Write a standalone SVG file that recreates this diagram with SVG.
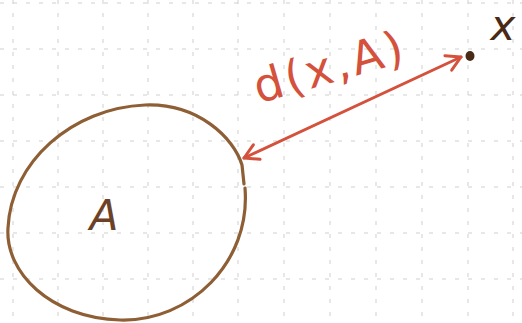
<svg xmlns="http://www.w3.org/2000/svg" width="522" height="323" viewBox="0 0 522 323">
<defs>
<style>
.grid line{stroke:#cfcfcf;stroke-width:1;stroke-dasharray:4 9}
.set{fill:none;stroke:#8e5e34;stroke-width:3.2;stroke-linejoin:round;stroke-linecap:round}
.dist{stroke:#d4513c;stroke-width:3;stroke-linecap:round;fill:none}
.lbl{font-family:"DejaVu Sans",sans-serif}
</style>
<marker id="ah" viewBox="0 0 20 20" refX="18" refY="10" markerWidth="20" markerHeight="20" markerUnits="userSpaceOnUse" orient="auto-start-reverse">
<path d="M4 2 L18 10 L4 18" fill="none" stroke="#d4513c" stroke-width="3" stroke-linecap="round" stroke-linejoin="round"/>
</marker>
</defs>
<rect width="522" height="323" fill="#ffffff"/>
<g class="grid">
<line x1="13" y1="0" x2="13" y2="323"/><line x1="58" y1="0" x2="58" y2="323"/><line x1="103" y1="0" x2="103" y2="323"/><line x1="148" y1="0" x2="148" y2="323"/><line x1="193" y1="0" x2="193" y2="323"/><line x1="238" y1="0" x2="238" y2="323"/><line x1="284" y1="0" x2="284" y2="323"/><line x1="330" y1="0" x2="330" y2="323"/><line x1="376" y1="0" x2="376" y2="323"/><line x1="422" y1="0" x2="422" y2="323"/><line x1="468" y1="0" x2="468" y2="323"/><line x1="513" y1="0" x2="513" y2="323"/>
<line x1="0" y1="3" x2="522" y2="3"/><line x1="0" y1="49" x2="522" y2="49"/><line x1="0" y1="95" x2="522" y2="95"/><line x1="0" y1="141" x2="522" y2="141"/><line x1="0" y1="187" x2="522" y2="187"/><line x1="0" y1="233" x2="522" y2="233"/><line x1="0" y1="279" x2="522" y2="279"/>
</g>
<g id="setA">
<path class="set" d="M245 188 C251 262 190 322 120 320 C50 318 5 272 8 228 C11 162 72 108 145 105 C198 103 234 138 242 165 L244 184"/>
<text class="lbl" x="104" y="230" font-size="42" fill="#6b4226" font-style="italic" text-anchor="middle">A</text>
</g>
<g id="pointX">
<ellipse cx="470" cy="56" rx="4.5" ry="5" fill="#4a2a16"/>
<text class="lbl" x="503" y="40" font-size="42" fill="#4a2a16" font-style="italic" text-anchor="middle">x</text>
</g>
<g id="connectors">
<line class="dist" x1="244" y1="158" x2="461" y2="57" marker-start="url(#ah)" marker-end="url(#ah)"/>
<text class="lbl" x="334" y="82" font-size="46" letter-spacing="3" fill="#d4513c" text-anchor="middle" transform="rotate(-16 334 82)">d(x,A)</text>
</g>
</svg>
